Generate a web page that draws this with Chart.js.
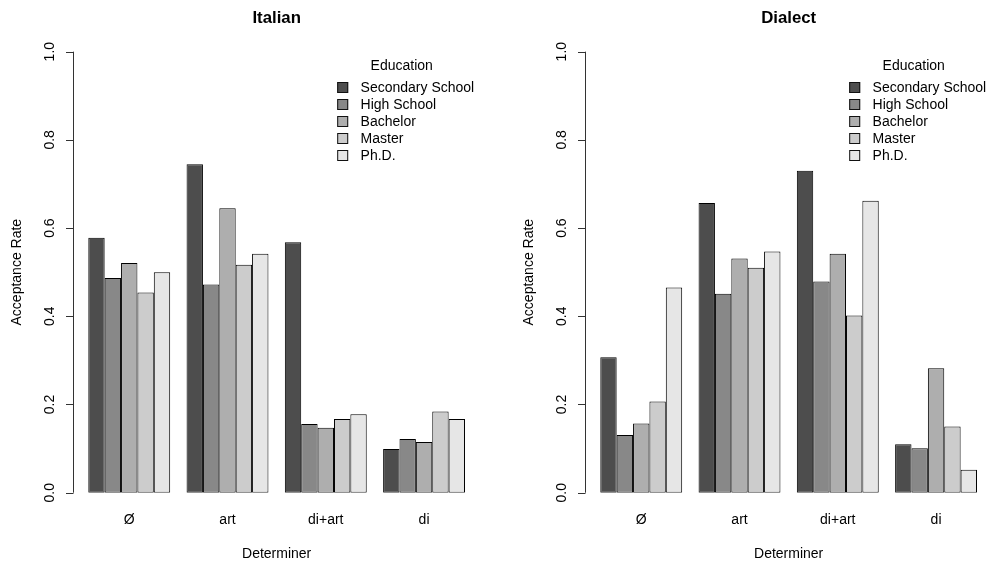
<!DOCTYPE html>
<html>
<head>
<meta charset="utf-8">
<script src="https://cdn.jsdelivr.net/npm/chart.js@4.4.1/dist/chart.umd.min.js"></script>
<style>
  html, body { margin: 0; padding: 0; background: #fff; overflow: hidden; width: 988px; height: 561px; }
  .panel { position: absolute; top: 0; width: 494px; height: 561px; }
</style>
</head>
<body>
<div class="panel" style="left:0"><canvas id="italian" width="494" height="561"></canvas></div>
<div class="panel" style="left:512px"><canvas id="dialect" width="494" height="561"></canvas></div>
<script>
// Categories and series
const determiners = ['Ø', 'art', 'di+art', 'di'];
const educationLevels = ['Secondary School', 'High School', 'Bachelor', 'Master', 'Ph.D.'];
const yTicks = [0, 0.2, 0.4, 0.6, 0.8, 1.0];

// Italian: acceptance rate per determiner, one array per education level
const italianSecondary = [0.578, 0.745, 0.568, 0.099];
const italianHigh      = [0.487, 0.472, 0.156, 0.122];
const italianBachelor  = [0.521, 0.645, 0.147, 0.115];
const italianMaster    = [0.454, 0.517, 0.167, 0.184];
const italianPhD       = [0.500, 0.542, 0.178, 0.167];

// Dialect
const dialectSecondary = [0.307, 0.657, 0.730, 0.110];
const dialectHigh      = [0.131, 0.451, 0.479, 0.101];
const dialectBachelor  = [0.157, 0.531, 0.542, 0.282];
const dialectMaster    = [0.207, 0.510, 0.402, 0.150];
const dialectPhD       = [0.465, 0.547, 0.662, 0.052];

// Grey ramp, dark to light
const barFills = ['#4D4D4D', '#888888', '#AEAEAE', '#CCCCCC', '#E6E6E6'];
const FONT = '"Liberation Sans", Arial, Helvetica, sans-serif';

// Classic base-graphics look: detached y axis with rotated labels, and a boxless legend
const baseAxes = {
  id: 'baseAxes',
  afterDraw(chart) {
    const { ctx, chartArea: a, scales: { x, y } } = chart;
    const n = x.getLabels().length;
    const catW = (x.getPixelForValue(n - 1) - x.getPixelForValue(0)) / (n - 1);
    const nSets = chart.data.datasets.length;
    const unit = catW / (nSets + 1);
    const firstBar = a.left + unit / 2;
    const lastBar = a.right - unit / 2;
    const axisX = Math.round(firstBar - 0.04 * (lastBar - firstBar)) + 0.5;

    ctx.save();
    ctx.strokeStyle = '#333';
    ctx.lineWidth = 1;
    ctx.fillStyle = '#000';
    ctx.font = '14px ' + FONT;

    // axis line and tick marks
    ctx.beginPath();
    ctx.moveTo(axisX, y.getPixelForValue(yTicks[0]));
    ctx.lineTo(axisX, y.getPixelForValue(yTicks[yTicks.length - 1]));
    yTicks.forEach(v => {
      const py = Math.round(y.getPixelForValue(v)) + 0.5;
      ctx.moveTo(axisX, py);
      ctx.lineTo(axisX - 7.5, py);
    });
    ctx.stroke();

    // tick labels, written along the axis
    ctx.textAlign = 'center';
    ctx.textBaseline = 'alphabetic';
    yTicks.forEach(v => {
      ctx.save();
      ctx.translate(axisX - 19.5, y.getPixelForValue(v));
      ctx.rotate(-Math.PI / 2);
      ctx.fillText(v.toFixed(1), 0, 0);
      ctx.restore();
    });

    // axis title
    ctx.save();
    ctx.translate(axisX - 53, (a.top + a.bottom) / 2);
    ctx.rotate(-Math.PI / 2);
    ctx.fillText('Acceptance Rate', 0, 0);
    ctx.restore();

    // legend in the top-right corner
    const boxX = a.right - 136;
    ctx.textAlign = 'center';
    ctx.textBaseline = 'middle';
    ctx.fillText('Education', boxX + 64.5, a.top + 14);
    ctx.textAlign = 'left';
    chart.data.datasets.forEach((ds, i) => {
      const rowY = a.top + 36.5 + i * 16.9;
      ctx.fillStyle = ds.backgroundColor;
      ctx.fillRect(boxX, Math.round(rowY - 6), 11, 11);
      ctx.strokeStyle = '#111';
      ctx.strokeRect(boxX + 0.5, Math.round(rowY - 6) + 0.5, 10, 10);
      ctx.fillStyle = '#000';
      ctx.fillText(ds.label, boxX + 23.4, rowY);
    });
    ctx.restore();
  }
};

function makeChart(id, title, series) {
  return new Chart(document.getElementById(id), {
    type: 'bar',
    data: {
      labels: determiners,
      datasets: educationLevels.map((lab, i) => ({
        label: lab,
        data: series[i],
        backgroundColor: barFills[i],
        borderColor: '#000',
        borderWidth: 1,
        borderSkipped: false,
        categoryPercentage: 5 / 6,
        barPercentage: 1
      }))
    },
    options: {
      responsive: false,
      animation: false,
      devicePixelRatio: 1,
      layout: { padding: { left: 80.1, right: 20.8, top: 0, bottom: 0 } },
      scales: {
        x: {
          grid: { display: false, drawTicks: false },
          border: { display: false },
          ticks: { color: '#000', font: { family: FONT, size: 14, lineHeight: 1 }, padding: 20 },
          title: {
            display: true, text: 'Determiner', color: '#000',
            font: { family: FONT, size: 14, lineHeight: 1 },
            padding: { top: 0, bottom: 0.3 }
          }
        },
        y: { display: false, min: 0, max: 1 }
      },
      plugins: {
        legend: { display: false },
        tooltip: { enabled: false },
        title: {
          display: true, text: title, color: '#000',
          font: { family: FONT, size: 16.8, weight: 'bold', lineHeight: 1.2 },
          padding: { top: 8, bottom: 23.5 }
        }
      }
    },
    plugins: [baseAxes]
  });
}

makeChart('italian', 'Italian', [italianSecondary, italianHigh, italianBachelor, italianMaster, italianPhD]);
makeChart('dialect', 'Dialect', [dialectSecondary, dialectHigh, dialectBachelor, dialectMaster, dialectPhD]);
</script>
</body>
</html>
